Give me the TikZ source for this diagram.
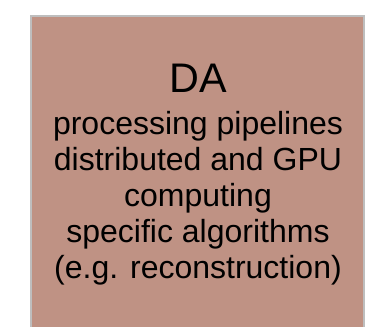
\documentclass[tikz,border=0pt]{standalone}
\usepackage{fontspec}
\setmainfont{Liberation Sans}
\definecolor{boxfill}{RGB}{191,146,132}
\definecolor{boxedge}{RGB}{190,190,190}
\begin{document}
\begin{tikzpicture}[x=0.75pt,y=-0.75pt,
  titletext/.style={anchor=base,inner sep=0pt,font=\fontsize{31pt}{36pt}\selectfont},
  bodytext/.style={anchor=base,inner sep=0pt,font=\fontsize{24pt}{27pt}\selectfont}]
\useasboundingbox (0,0) rectangle (375,327);
\fill[boxfill] (31,16) rectangle (364,330);
\draw[boxedge,line width=1.5pt] (31,330) -- (31,16) -- (364,16) -- (364,330);
\node[titletext] (t0) at (198,93) {DA};
\node[bodytext] (t1) at (198,135) {processing pipelines};
\node[bodytext] (t2) at (198,171) {distributed and GPU};
\node[bodytext] (t3) at (198,207) {computing};
\node[bodytext] (t4) at (198,243) {specific algorithms};
\node[bodytext] (t5) at (198,279) {(e.g. reconstruction)};
\end{tikzpicture}
\end{document}
